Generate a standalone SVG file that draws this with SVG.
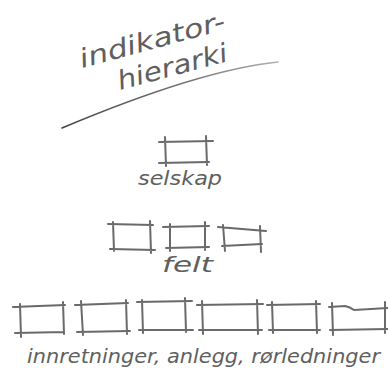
<svg xmlns="http://www.w3.org/2000/svg" width="388" height="372" viewBox="0 0 388 372">
<defs>
<style>
.s{stroke:#6a6a6a;stroke-width:2;fill:none;stroke-linecap:round}
.t{font-family:"DejaVu Sans","Liberation Sans",sans-serif;font-style:italic;fill:#5f5f5f}
</style>
<linearGradient id="ul" gradientUnits="userSpaceOnUse" x1="62" y1="0" x2="278" y2="0">
<stop offset="0" stop-color="#444"/>
<stop offset="0.6" stop-color="#777"/>
<stop offset="1" stop-color="#b0b0b0"/>
</linearGradient>
</defs>
<rect width="388" height="372" fill="#fff"/>
<g id="title">
<text class="t" x="82" y="68" font-size="26" textLength="150" lengthAdjust="spacingAndGlyphs" transform="rotate(-15 82 68)">indikator-</text>
<text class="t" x="120" y="90" font-size="26" textLength="113" lengthAdjust="spacingAndGlyphs" transform="rotate(-15 120 90)">hierarki</text>
<path d="M62,128 Q200,70 278,62" fill="none" stroke="url(#ul)" stroke-width="1.6" stroke-linecap="round"/>
</g>
<g id="connectors"></g>
<g id="selskap">
<path class="s" d="M159,142 L213,141 M159,163 L209,162 M165,137 L166,166 M206,136 L207,165"/>
<text class="t" x="138" y="185" font-size="19" textLength="84" lengthAdjust="spacingAndGlyphs">selskap</text>
</g>
<g id="felt">
<path class="s" d="M108,224 L153,225 M110,249 L155,250 M113,222 L114,251 M150,221 L151,253"/>
<path class="s" d="M163,227 L209,226 M166,248 L209,247 M170,224 L170,251 M205,222 L205,250"/>
<path class="s" d="M218,227 L266,231 M222,246 L262,244 M223,225 L225,251 M260,226 L261,252"/>
<text class="t" x="162" y="272" font-size="21" textLength="51" lengthAdjust="spacingAndGlyphs">felt</text>
</g>
<g id="innretninger">
<path class="s" d="M13,307 L65,305 M15,333 L64,332 M20,304 L21,337 M63,302 L64,334"/>
<path class="s" d="M75,305 L128,303 M77,332 L130,331 M81,301 L83,335 M126,300 L127,334"/>
<path class="s" d="M137,302 L192,301 M139,330 L193,330 M142,300 L143,333 M185,298 L186,332"/>
<path class="s" d="M197,305 L263,304 M199,330 L262,330 M202,301 L203,334 M257,300 L258,334"/>
<path class="s" d="M267,305 L320,304 M269,330 L320,330 M272,302 L273,333 M316,301 L317,333"/>
<path class="s" d="M329,307 L345,306 Q350,307 354,310 L388,308 M330,330 L388,329 M332,303 L333,335 M385,302 L385,333"/>
<text class="t" x="27" y="363" font-size="19" textLength="353" lengthAdjust="spacingAndGlyphs">innretninger, anlegg, rørledninger</text>
</g>
</svg>
